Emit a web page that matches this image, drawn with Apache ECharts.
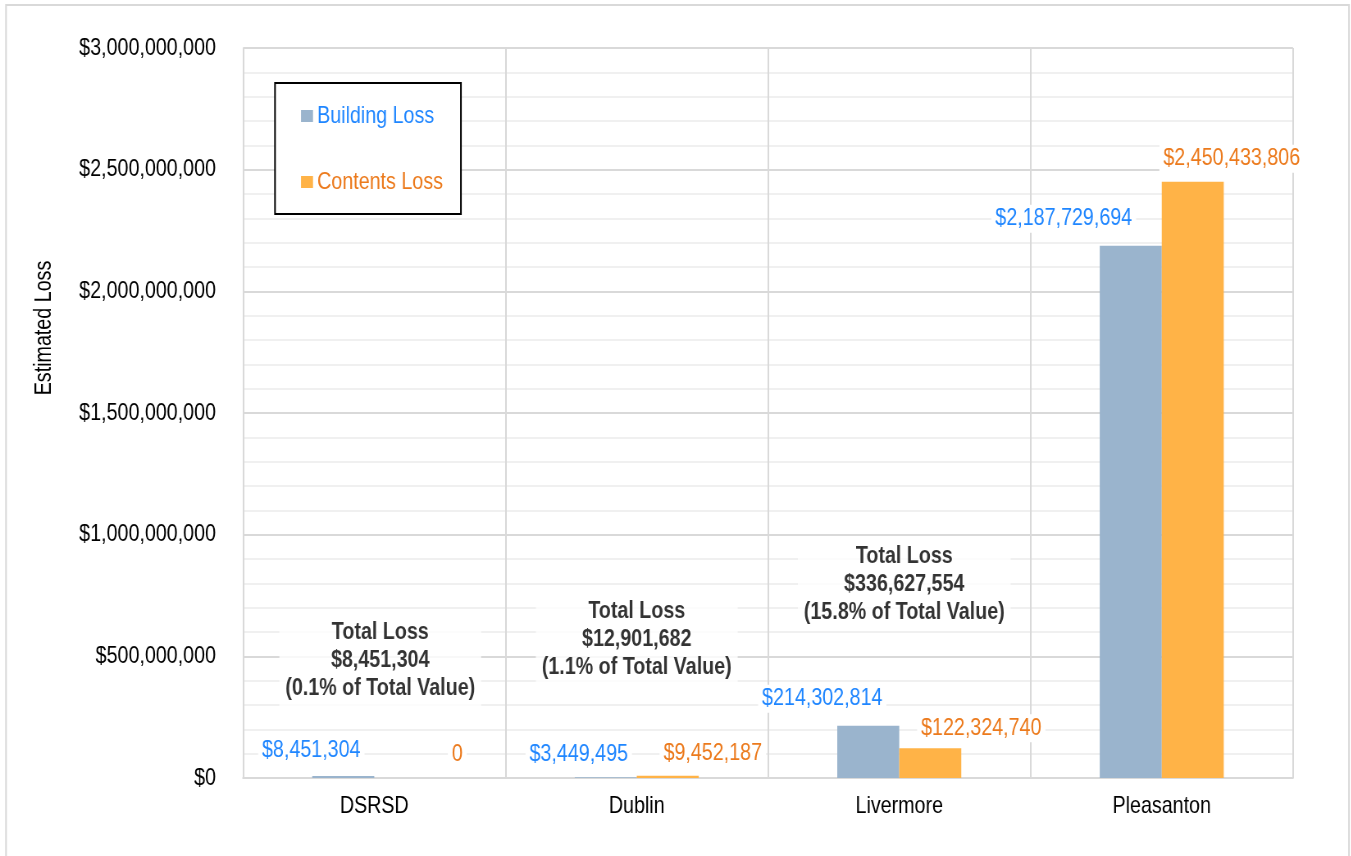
<!DOCTYPE html>
<html>
<head>
<meta charset="utf-8">
<script src="https://cdn.jsdelivr.net/npm/echarts@6/dist/echarts.min.js"></script>
<style>
  html, body { margin: 0; padding: 0; background: #fff; overflow: hidden; }
  /* The chart is laid out wide and condensed horizontally so the
     Liberation Sans text takes on Arial Narrow proportions. */
  #chart { width: 1648px; height: 856px; transform: scaleX(0.82); transform-origin: 0 0; }
</style>
</head>
<body>
<div id="chart"></div>
<script>
// Estimated flood loss by jurisdiction
const categories = ['DSRSD', 'Dublin', 'Livermore', 'Pleasanton'];
const buildingLoss = [8451304, 3449495, 214302814, 2187729694];
const contentsLoss = [0, 9452187, 122324740, 2450433806];
// Combined loss and share of total value (not annotated for Pleasanton)
const totalLoss = [8451304, 12901682, 336627554, null];
const totalPct = ['0.1%', '1.1%', '15.8%', null];
const yTicks = { min: 0, max: 3000000000, interval: 500000000 };

// Horizontal condensing factor (matches the container transform)
const S = 0.82;
const X = px => px / S;

// Label nudges (screen pixels) so the value tags sit clear of the bars
const buildingNudge = [[-32, -7], [-27, -4], [-46, -8], [-67, -8]];
const contentsNudge = [[52, -5], [45, -3], [51, -1], [39, -4]];
const totalNudge = [[6, -116], [0, -135], [5, -112], [0, 0]];

const FONT = '"Liberation Sans", Arial, sans-serif';
const BLUE_BAR = '#9AB4CD';
const ORANGE_BAR = '#FFB347';
const BLUE_TEXT = '#1F86FF';
const ORANGE_TEXT = '#EC7A1C';

const money = v => '$' + Math.round(v).toLocaleString('en-US');
const nudge = o => [X(o[0]), o[1]];

function valueLabel(color, nudges) {
  return (v, i) => ({
    value: v,
    label: {
      show: true,
      position: 'top',
      offset: nudge(nudges[i]),
      color: color,
      fontFamily: FONT,
      fontSize: 24,
      backgroundColor: '#fff',
      padding: [2, X(4)],
      formatter: p => (p.value === 0 ? '0' : money(p.value))
    }
  });
}

const totalData = totalLoss
  .map((v, i) => (v == null ? null : {
    value: [categories[i], v],
    label: { offset: nudge(totalNudge[i]) },
    pct: totalPct[i]
  }))
  .filter(Boolean);

const chart = echarts.init(document.getElementById('chart'), null, { renderer: 'canvas' });

chart.setOption({
  backgroundColor: '#fff',
  animation: false,
  textStyle: { fontFamily: FONT },
  graphic: [
    {
      type: 'rect',
      shape: { x: X(6), y: 5, width: X(1343), height: 900 },
      style: { fill: 'none', stroke: '#D9D9D9', lineWidth: 2 },
      silent: true,
      z: -10
    },
    {
      type: 'text',
      x: X(44),
      y: 328,
      rotation: Math.PI / 2,
      scaleX: S,
      scaleY: 1 / S,
      style: {
        text: 'Estimated Loss',
        fill: '#000',
        font: '24px ' + FONT,
        align: 'center',
        verticalAlign: 'middle'
      }
    }
  ],
  legend: {
    orient: 'vertical',
    left: X(275),
    top: 83,
    itemWidth: X(12),
    itemHeight: 12,
    itemGap: 42,
    padding: [21, X(18), 20, X(26)],
    borderColor: '#000',
    borderWidth: 2,
    backgroundColor: '#fff',
    icon: 'rect',
    textStyle: { fontFamily: FONT, fontSize: 24 },
    data: [
      { name: 'Building Loss', textStyle: { color: BLUE_TEXT } },
      { name: 'Contents Loss', textStyle: { color: ORANGE_TEXT } }
    ]
  },
  grid: { left: X(243), right: 1648 - X(1293), top: 48, bottom: 78 },
  xAxis: {
    type: 'category',
    data: categories,
    axisLine: { show: true, lineStyle: { color: '#D9D9D9', width: 2 } },
    axisTick: { show: false },
    axisLabel: { color: '#000', fontFamily: FONT, fontSize: 24, margin: 16 },
    splitLine: { show: true, lineStyle: { color: '#D9D9D9', width: 2 } }
  },
  yAxis: {
    type: 'value',
    min: yTicks.min,
    max: yTicks.max,
    interval: yTicks.interval,
    axisLine: { show: false },
    axisTick: { show: false },
    axisLabel: {
      color: '#000',
      fontFamily: FONT,
      fontSize: 24,
      margin: X(27),
      formatter: v => money(v)
    },
    splitLine: { show: true, lineStyle: { color: '#D9D9D9', width: 2 } },
    minorTick: { show: false, splitNumber: 5 },
    minorSplitLine: { show: true, lineStyle: { color: '#F0F0F0', width: 2 } }
  },
  series: [
    {
      name: 'Building Loss',
      type: 'bar',
      barWidth: X(62),
      barGap: '0%',
      itemStyle: { color: BLUE_BAR },
      data: buildingLoss.map(valueLabel(BLUE_TEXT, buildingNudge)),
      z: 3
    },
    {
      name: 'Contents Loss',
      type: 'bar',
      barWidth: X(62),
      barGap: '0%',
      itemStyle: { color: ORANGE_BAR },
      data: contentsLoss.map(valueLabel(ORANGE_TEXT, contentsNudge)),
      z: 3
    },
    {
      name: 'Total Loss',
      type: 'scatter',
      symbolSize: 0,
      silent: true,
      z: 4,
      label: {
        show: true,
        position: 'inside',
        backgroundColor: '#fff',
        padding: [4, X(6)],
        align: 'center',
        verticalAlign: 'middle',
        formatter: p => 'Total Loss\n' + money(p.value[1]) + '\n(' + p.data.pct + ' of Total Value)',
        color: '#000',
        fontFamily: FONT,
        fontSize: 24,
        fontWeight: 'bold',
        lineHeight: 28
      },
      data: totalData
    }
  ]
});
</script>
</body>
</html>
